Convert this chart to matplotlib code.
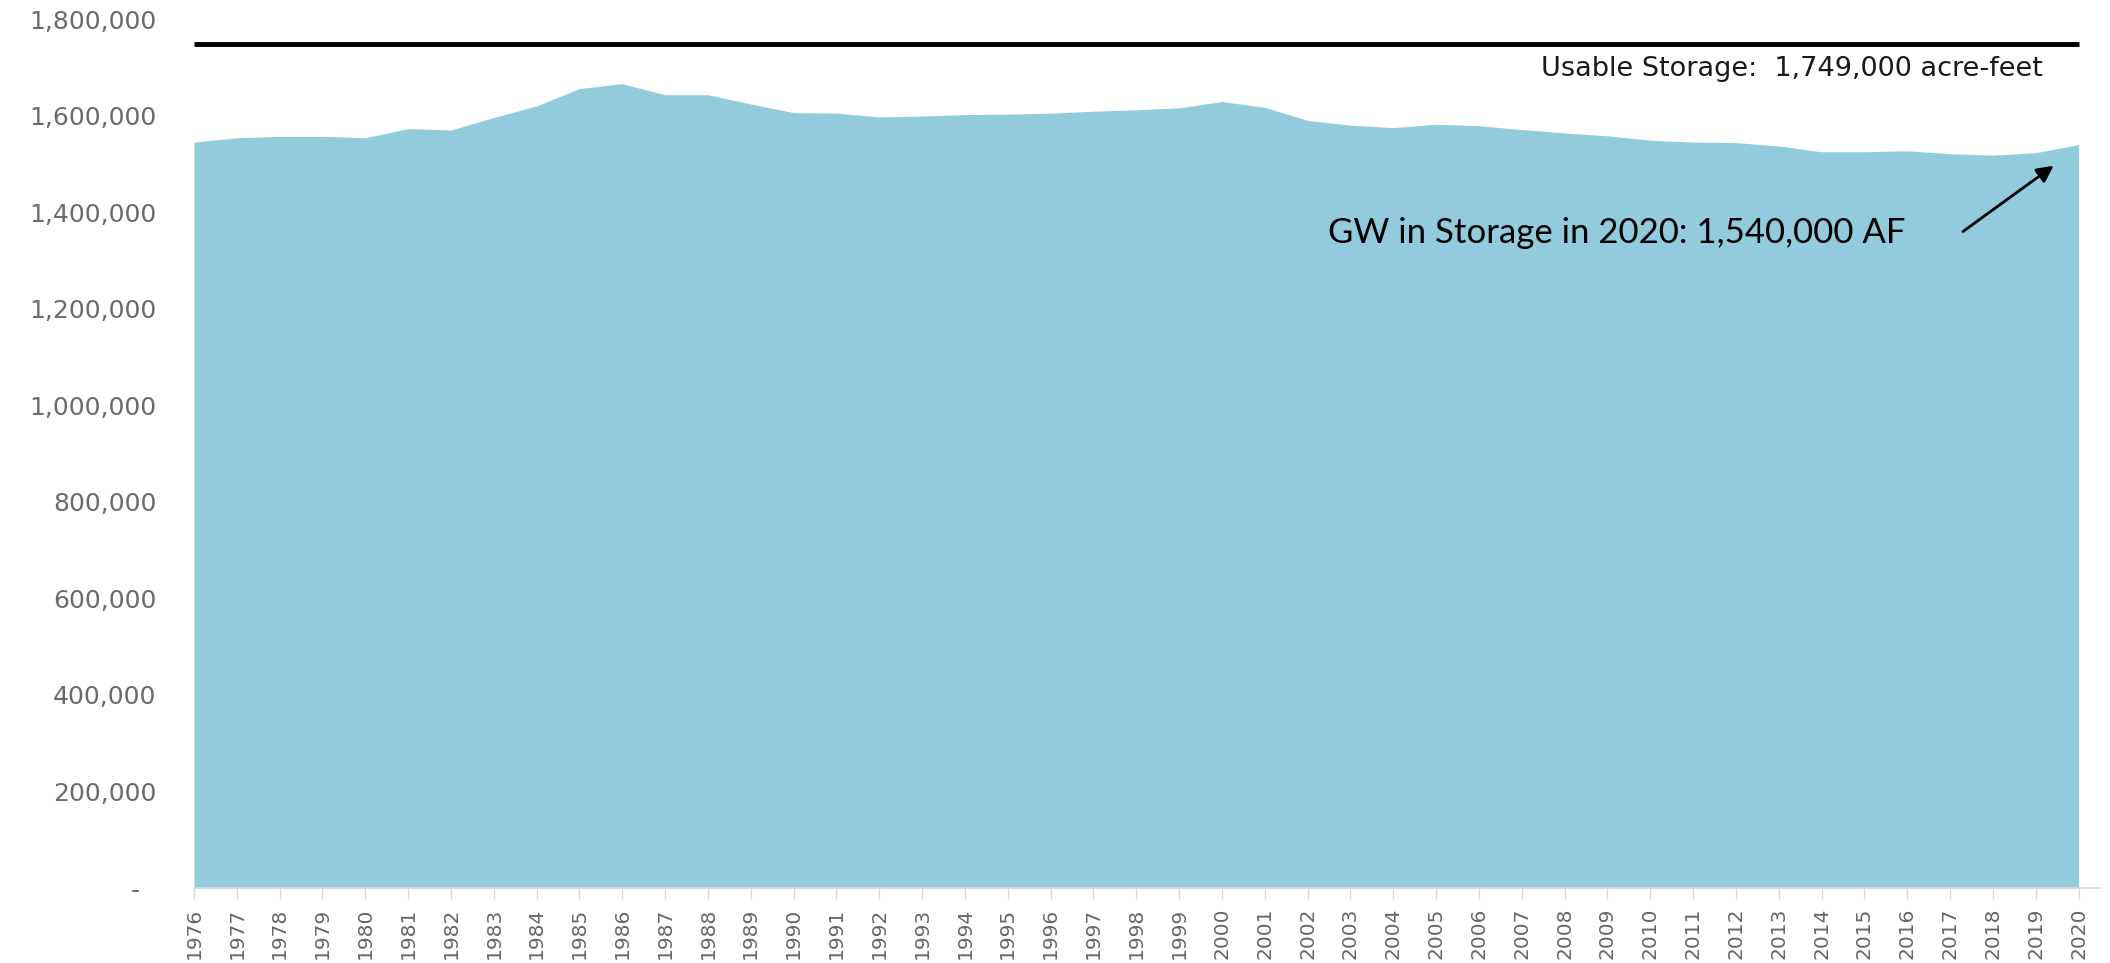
import matplotlib
matplotlib.use("Agg")
import matplotlib.pyplot as plt
from matplotlib.ticker import FuncFormatter

years = list(range(1976, 2021))
storage = [1545000, 1554000, 1557000, 1557000, 1554000, 1573000, 1570000, 1596000,
           1620000, 1656000, 1666000, 1643000, 1643000, 1624000, 1606000, 1605000,
           1597000, 1599000, 1602000, 1603000, 1605000, 1609000, 1612000, 1616000,
           1629000, 1617000, 1590000, 1580000, 1575000, 1582000, 1579000, 1571000,
           1564000, 1558000, 1549000, 1545000, 1544000, 1537000, 1525000, 1525000,
           1527000, 1521000, 1518000, 1523000, 1540000]
usable_storage = 1749000
usable_label = "Usable Storage:  1,749,000 acre-feet"
gw_label = "GW in Storage in 2020: 1,540,000 AF"
yticks = [0, 200000, 400000, 600000, 800000, 1000000, 1200000, 1400000, 1600000, 1800000]

fig = plt.figure(figsize=(21.1, 9.63), dpi=100)
ax = fig.add_axes([194/2110, 75/963, (2100-194)/2110, (888-19)/963])

ax.fill_between(years, storage, 0, color="#92CBDC", linewidth=0)
ax.plot([years[0], years[-1]], [usable_storage, usable_storage], color="black", lw=3.5,
        solid_capstyle="butt")

ax.set_xlim(1976, 2020.5)
ax.set_ylim(0, 1800000)

ax.set_xticks(years)
ax.set_xticklabels([str(y) for y in years], rotation=90, fontsize=14.5,
                   color="#666666", family="DejaVu Sans")
ax.set_yticks(yticks)

def yfmt(v, pos):
    if v == 0:
        return "-  "
    return f"{int(v):,}"

ax.yaxis.set_major_formatter(FuncFormatter(yfmt))
for lab in ax.get_yticklabels():
    lab.set_fontsize(18)
    lab.set_color("#6b6b6b")
ax.tick_params(axis="y", length=0, pad=27)
ax.tick_params(axis="x", length=8, width=1, color="#d9d9d9", pad=6)

for s in ["top", "right", "left"]:
    ax.spines[s].set_visible(False)
ax.spines["bottom"].set_color("#d9d9d9")
ax.spines["bottom"].set_linewidth(1.2)

ax.text(2019.16, 1696000, usable_label, ha="right", va="center", fontsize=19.5,
        family="DejaVu Sans", color="#1a1a1a")
ax.text(2002.47, 1356500, gw_label, ha="left", va="center", fontsize=25,
        family="Lato", color="black")
ax.annotate("", xy=(2019.47, 1499500), xytext=(2017.25, 1356500),
            arrowprops=dict(arrowstyle="-|>", color="black", lw=2, mutation_scale=25))

fig.savefig("out.png", dpi=100)
